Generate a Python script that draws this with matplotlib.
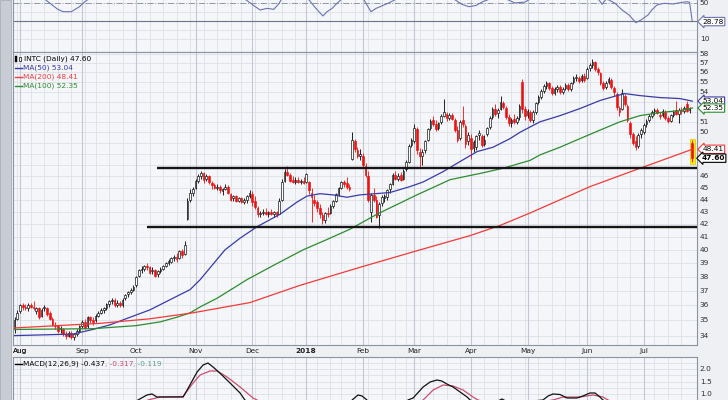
import numpy as np
import pandas as pd
import matplotlib
matplotlib.use('Agg')
import matplotlib.pyplot as plt
from matplotlib.patches import Rectangle
from matplotlib.lines import Line2D

plt.rcParams['font.family'] = ['DejaVu Sans']

# ---------------- data ----------------
holidays = ['2017-09-04', '2017-11-23', '2017-12-25', '2018-01-01', '2018-01-15',
            '2018-02-19', '2018-03-30', '2018-05-28', '2018-07-04']
dates = pd.bdate_range('2017-07-28', '2018-07-27', freq='C', holidays=holidays)

opens = [34.4, 35.1, 35.6, 36.0, 35.9, 35.8, 36.0, 35.9, 35.6, 35.8,
         35.3, 35.8, 35.8, 35.5, 35.1, 34.7, 34.6, 34.4, 34.4, 34.1,
         34.0, 34.2, 33.9, 34.1, 34.3, 34.6, 34.9, 34.6, 35.2, 35.0,
         35.0, 35.3, 35.5, 35.7, 35.8, 36.1, 36.3, 36.4, 36.0, 36.2,
         36.0, 36.5, 36.8, 36.9, 37.1, 37.4, 38.1, 38.5, 38.6, 38.8,
         38.7, 38.4, 38.5, 38.2, 38.4, 38.6, 38.8, 39.0, 39.1, 39.4,
         39.5, 39.4, 39.9, 39.7, 42.4, 44.0, 44.6, 45.0, 45.6, 46.0,
         46.3, 45.8, 46.0, 45.4, 45.2, 45.0, 45.1, 44.7, 44.9, 45.1,
         44.5, 44.1, 44.3, 43.9, 44.1, 43.8, 44.0, 44.3, 44.5, 43.9,
         43.3, 42.8, 42.9, 43.0, 42.8, 43.0, 42.8, 43.0, 42.8, 44.0,
         45.6, 46.4, 46.1, 45.7, 45.5, 45.7, 45.5, 45.6, 45.5, 45.5,
         44.6, 44.0, 43.8, 43.3, 42.7, 42.3, 42.9, 42.9, 43.5, 43.9,
         44.5, 45.0, 45.5, 45.4, 45.1, 47.5, 49.2, 48.3, 47.8, 47.8,
         46.9, 46.0, 43.0, 44.4, 44.0, 42.7, 43.7, 44.1, 44.2, 44.9,
         45.3, 46.1, 45.8, 46.1, 45.8, 46.6, 47.3, 48.8, 49.2, 50.3,
         48.2, 47.8, 48.3, 49.3, 50.4, 51.2, 50.8, 50.4, 51.0, 51.6,
         51.8, 51.4, 51.7, 51.2, 50.2, 49.5, 51.2, 50.6, 49.2, 49.5,
         48.5, 48.6, 49.7, 49.6, 48.9, 49.8, 50.5, 51.5, 52.3, 51.9,
         52.3, 52.9, 52.4, 51.5, 50.9, 51.3, 51.0, 51.5, 55.0, 52.3,
         51.7, 52.0, 51.2, 52.0, 53.0, 53.5, 54.1, 54.6, 54.9, 54.4,
         53.9, 54.3, 54.5, 54.0, 54.4, 54.7, 54.3, 55.0, 55.4, 55.4,
         55.2, 55.6, 55.4, 56.5, 56.8, 57.1, 56.4, 55.9, 54.9, 54.5,
         55.0, 55.2, 54.4, 53.8, 52.4, 52.3, 53.6, 52.6, 50.9, 49.8,
         49.2, 48.7, 49.8, 50.0, 50.8, 51.2, 51.6, 52.1, 52.2, 51.7,
         51.7, 52.0, 51.4, 51.1, 51.7, 52.2, 51.8, 52.2, 52.1, 52.8,
         52.2, 49.0]
highs = [35.2, 35.7, 36.1, 36.2, 36.1, 36.2, 36.2, 36.3, 35.9, 35.9,
         35.8, 36.0, 35.9, 35.6, 35.2, 34.9, 34.7, 34.6, 34.5, 34.3,
         34.3, 34.3, 34.2, 34.4, 34.7, 35.0, 35.1, 35.3, 35.3, 35.2,
         35.4, 35.6, 35.8, 35.9, 36.2, 36.4, 36.5, 36.5, 36.4, 36.3,
         36.5, 36.8, 37.0, 37.2, 37.4, 38.1, 38.6, 38.8, 38.9, 39.0,
         38.8, 38.7, 38.6, 38.5, 38.7, 38.9, 39.1, 39.3, 39.5, 39.6,
         39.8, 40.0, 40.1, 40.7, 44.1, 44.9, 45.1, 45.8, 46.2, 46.5,
         46.4, 46.2, 46.1, 45.6, 45.4, 45.3, 45.2, 45.0, 45.3, 45.2,
         44.6, 44.4, 44.4, 44.2, 44.2, 44.1, 44.4, 44.8, 44.7, 44.3,
         43.5, 43.1, 43.2, 43.3, 43.1, 43.2, 43.1, 43.1, 44.1, 45.8,
         46.6, 46.9, 46.3, 46.0, 45.9, 45.9, 45.8, 45.9, 46.3, 45.6,
         45.0, 44.4, 44.0, 43.6, 43.0, 43.0, 43.4, 43.6, 44.0, 44.6,
         45.1, 45.6, 45.7, 45.9, 45.3, 50.0, 49.4, 48.6, 48.4, 48.1,
         47.2, 46.5, 44.6, 45.0, 44.3, 43.8, 44.4, 44.5, 44.9, 45.4,
         46.3, 46.5, 46.3, 46.4, 46.6, 47.4, 48.9, 49.5, 50.8, 50.5,
         48.5, 48.4, 49.3, 50.4, 51.3, 51.6, 51.2, 51.0, 51.8, 53.3,
         52.0, 51.9, 51.9, 51.4, 50.6, 51.2, 52.6, 50.8, 50.0, 49.8,
         49.3, 49.7, 50.2, 49.8, 49.7, 50.5, 51.6, 52.5, 52.8, 52.4,
         53.6, 53.1, 52.6, 51.8, 51.4, 51.8, 51.6, 52.8, 55.3, 52.6,
         52.3, 52.2, 52.2, 53.0, 53.7, 54.3, 54.8, 55.1, 55.0, 54.6,
         54.5, 54.7, 54.7, 54.5, 54.9, 54.9, 55.0, 55.6, 55.8, 55.6,
         55.8, 55.9, 56.6, 57.0, 57.4, 57.2, 56.6, 56.0, 55.1, 55.1,
         55.5, 55.4, 54.6, 54.0, 52.6, 54.3, 53.8, 52.8, 51.1, 50.0,
         49.6, 49.9, 50.4, 50.9, 51.3, 51.8, 52.2, 52.4, 52.4, 52.0,
         52.3, 52.2, 51.6, 51.8, 52.2, 53.1, 52.4, 52.5, 52.6, 53.1,
         52.5, 49.3]
lows = [34.2, 35.0, 35.5, 35.7, 35.7, 35.6, 35.8, 35.7, 35.4, 35.1,
        35.2, 35.6, 35.3, 35.0, 34.6, 34.4, 34.2, 34.2, 34.0, 33.8,
        33.9, 33.8, 33.7, 34.0, 34.2, 34.5, 34.4, 34.5, 34.8, 34.7,
        34.9, 35.2, 35.4, 35.5, 35.7, 35.9, 36.1, 35.9, 35.9, 35.9,
        35.9, 36.4, 36.6, 36.8, 37.0, 37.3, 38.0, 38.3, 38.4, 38.5,
        38.2, 38.2, 38.0, 38.0, 38.3, 38.5, 38.7, 38.9, 39.0, 39.2,
        39.1, 39.3, 39.4, 39.6, 42.3, 43.8, 44.3, 44.9, 45.4, 45.8,
        45.4, 45.6, 45.3, 44.9, 44.9, 44.8, 44.6, 44.4, 44.8, 44.5,
        43.9, 43.9, 43.8, 43.8, 43.7, 43.6, 43.7, 44.1, 43.5, 43.2,
        42.6, 42.6, 42.7, 42.7, 42.6, 42.7, 42.6, 42.6, 42.8, 43.9,
        45.5, 46.0, 45.5, 45.4, 45.3, 45.4, 45.3, 45.3, 45.4, 44.5,
        42.2, 43.5, 43.0, 42.5, 42.0, 42.1, 42.6, 42.8, 43.3, 43.8,
        44.3, 44.9, 45.1, 44.9, 44.7, 47.4, 48.2, 47.6, 47.4, 46.8,
        45.9, 43.8, 42.2, 43.8, 42.5, 41.7, 43.5, 43.8, 44.0, 44.6,
        45.2, 45.7, 45.6, 45.6, 45.7, 46.5, 47.2, 48.6, 49.0, 48.0,
        46.7, 47.0, 48.1, 49.2, 50.2, 50.6, 50.1, 50.2, 50.8, 51.5,
        51.1, 51.2, 51.2, 50.0, 49.1, 49.3, 50.5, 48.5, 48.8, 47.5,
        48.2, 48.3, 49.3, 48.6, 48.7, 49.6, 50.3, 51.3, 51.6, 51.4,
        52.2, 52.3, 51.3, 50.6, 50.5, 50.8, 50.8, 51.2, 51.9, 51.2,
        51.4, 51.0, 50.9, 51.8, 52.8, 53.3, 53.9, 54.3, 54.2, 53.7,
        53.7, 54.0, 53.8, 53.8, 54.2, 54.1, 54.1, 54.8, 55.1, 54.9,
        55.0, 55.0, 55.3, 56.2, 56.5, 56.2, 55.7, 54.7, 54.2, 54.3,
        54.8, 54.3, 53.6, 52.2, 51.6, 52.2, 52.6, 51.0, 49.5, 48.8,
        48.3, 48.5, 49.5, 49.8, 50.5, 51.0, 51.4, 51.7, 51.8, 51.3,
        51.5, 51.2, 50.9, 51.0, 51.5, 51.7, 50.9, 51.8, 51.9, 52.0,
        51.9, 47.3]
closes = [35.0, 35.5, 36.0, 35.9, 35.8, 36.0, 35.9, 35.8, 35.8, 35.2,
          35.7, 35.9, 35.4, 35.1, 34.7, 34.6, 34.3, 34.5, 34.1, 34.0,
          34.2, 33.9, 34.1, 34.3, 34.6, 34.9, 34.5, 35.2, 35.0, 34.9,
          35.3, 35.5, 35.7, 35.8, 36.1, 36.3, 36.4, 36.0, 36.2, 36.0,
          36.4, 36.7, 36.9, 37.1, 37.3, 38.0, 38.5, 38.6, 38.8, 38.7,
          38.3, 38.5, 38.1, 38.4, 38.6, 38.8, 39.0, 39.2, 39.4, 39.5,
          39.3, 39.9, 39.6, 40.4, 43.9, 44.6, 44.9, 45.6, 46.0, 46.3,
          45.7, 46.0, 45.5, 45.2, 45.0, 45.1, 44.8, 44.9, 45.1, 44.6,
          44.0, 44.3, 43.9, 44.1, 43.8, 44.0, 44.3, 44.6, 43.8, 43.4,
          42.8, 42.9, 43.0, 42.8, 43.0, 42.8, 43.0, 42.7, 43.9, 45.5,
          46.4, 46.1, 45.6, 45.5, 45.7, 45.5, 45.6, 45.4, 46.2, 44.8,
          44.2, 43.7, 43.3, 42.8, 42.3, 42.9, 42.8, 43.5, 43.9, 44.5,
          45.0, 45.5, 45.3, 45.1, 44.9, 49.3, 48.4, 47.8, 48.0, 47.0,
          46.1, 44.0, 44.4, 44.0, 42.6, 43.6, 44.2, 44.3, 44.8, 45.3,
          46.1, 45.8, 46.0, 45.7, 46.5, 47.3, 48.7, 49.3, 50.4, 48.3,
          47.8, 48.2, 49.2, 50.3, 51.1, 50.8, 50.3, 50.9, 51.6, 52.0,
          51.4, 51.7, 51.3, 50.2, 49.3, 51.0, 50.8, 48.9, 49.7, 48.4,
          49.1, 49.6, 49.9, 48.8, 49.3, 50.4, 51.4, 52.3, 51.8, 52.2,
          53.0, 52.5, 51.5, 50.9, 51.2, 51.0, 51.4, 52.6, 52.3, 51.6,
          52.1, 51.2, 52.0, 52.9, 53.5, 54.1, 54.6, 54.9, 54.4, 53.9,
          54.3, 54.5, 54.0, 54.3, 54.7, 54.3, 54.9, 55.4, 55.5, 55.1,
          55.6, 55.2, 56.4, 56.8, 57.1, 56.4, 56.0, 54.9, 54.4, 54.9,
          55.3, 54.5, 54.0, 52.5, 52.0, 53.9, 52.8, 51.2, 49.8, 49.0,
          48.6, 49.7, 50.2, 50.7, 51.1, 51.6, 52.0, 52.2, 51.9, 51.6,
          52.1, 51.4, 51.1, 51.7, 52.0, 51.8, 52.2, 52.1, 52.4, 52.1,
          52.3, 47.6]

# moving averages, read at sampled trading days (index into dates)
ma50_day = [0, 21.6, 29, 35.3, 42.7, 50.1, 57.6, 65, 68.7, 77.9, 83.5, 89.8, 98.3, 104.6,
            108.3, 113.1, 117.9, 123.1, 127.9, 139, 146.4, 151.3, 158.7, 165, 171.3, 177.2,
            183.5, 187.2, 194.6, 202, 209.4, 216.8, 223.1, 226.1, 231.6, 239, 246.4, 251]
ma50_val = [34.0, 34.1, 34.4, 34.7, 35.2, 35.7, 36.4, 37.1, 37.8, 40.0, 40.9, 41.8, 42.8, 43.8,
            44.3, 44.5, 44.4, 44.2, 44.4, 44.6, 45.1, 45.5, 46.4, 47.3, 48.2, 48.6,
            49.4, 50.0, 51.0, 51.6, 52.3, 53.1, 53.6, 53.8, 53.6, 53.4, 53.3, 53.04]
ma100_day = [0, 29, 45, 54, 60, 65, 68.7, 75, 81, 86, 96.4, 106.8, 115.7, 124.2, 134.2,
             149, 161.3, 173.5, 180.9, 190.9, 194.6, 202, 209.4, 216.8, 224.2, 231.6,
             239, 246.4, 251]
ma100_val = [34.4, 34.45, 34.65, 34.9, 35.2, 35.5, 35.9, 36.5, 37.2, 37.8, 38.9, 40.0, 40.8,
             41.6, 42.8, 44.4, 45.7, 46.3, 46.7, 47.4, 47.9, 48.6, 49.4, 50.2, 51.0, 51.6,
             51.9, 52.1, 52.35]
ma200_day = [0, 31.6, 50, 66, 87.2, 105.7, 127.9, 150.1, 168.7, 179.8, 190.9, 213.1, 230.5, 251]
ma200_val = [34.5, 34.8, 35.1, 35.5, 36.2, 37.4, 38.7, 40.0, 41.1, 41.9, 42.9, 45.1, 46.6, 48.41]

# upper indicator (RSI-style) panel
rsi_day = [0, 6, 11, 16, 18, 21, 24, 26, 28, 35, 45, 55, 62, 68, 75, 80,
           85.7, 88.3, 90.9, 93.5, 96, 98, 98.7, 101, 104,
           109, 111.6, 114.2, 115.7, 117.6, 119.4, 120.9, 124, 126, 128,
           129.4, 130.5, 132, 133.9, 135.7, 138.3, 140.9, 145, 149, 152, 157, 161,
           163.1, 165.7, 168.3, 170.9, 173.5, 175.3, 178,
           182.7, 185.3, 189, 190.5, 195, 200, 206, 212,
           216.4, 217.6, 219, 220, 222.4, 225, 227.6, 230.1, 232, 234.6, 236,
           237.9, 240.5, 243.9, 246.4, 249, 250, 251]
rsi_val = [60, 58, 54, 42.4, 39.8, 39.8, 45.3, 50.9, 55, 64, 74, 66, 70, 78, 62, 57,
           53, 47.2, 41.7, 43.5, 42.4, 49.1, 53, 68, 60,
           53, 43.5, 35, 39.8, 43.5, 49.1, 53, 60, 72, 64,
           53, 47.2, 39.8, 43.5, 45.8, 49.1, 53, 62, 68, 60, 64, 56,
           53, 48, 45.3, 46.7, 51.1, 53, 62,
           53, 49.5, 50.5, 53, 62, 60, 65, 70,
           53, 48, 53.5, 53, 49.1, 41.7, 36.1, 27.6, 30.6, 36.1, 41.7,
           47.2, 49.1, 48.3, 49.8, 50.9, 50.3, 28.78]

# MACD panel
macd_day = [0, 10, 20, 30, 40, 45.7, 49, 50.9, 52.7, 62.4, 63.9, 67.6, 69.8, 71.6, 73.5, 76,
            79.8, 83.5, 85.3, 92, 98, 104, 110, 118, 124, 125, 127.2, 128.7, 130.5, 135,
            140, 143, 145.7, 147.6, 151.3, 153.9, 156.4, 158.2, 160.1, 162.4, 165, 167.6,
            168.7, 175, 180.5, 184, 190, 195.7, 197.6, 199.4, 202, 204.6, 208.3, 210.5,
            213.1, 215, 216.8, 217.9, 225, 232, 240, 246, 251]
macd_val = [0.2, 0.1, -0.3, -0.1, 0.3, 0.76, 0.96, 1.0, 0.88, 0.88, 1.16, 1.88, 2.16, 2.24,
            2.08, 1.84, 1.44, 1.04, 0.76, 0.2, 0.0, 0.4, 0.2, -0.1, 0.5, 0.76, 0.96, 0.92,
            0.76, 0.1, 0.1, 0.45, 0.76, 0.84, 1.28, 1.48, 1.56, 1.52, 1.4, 1.28, 1.08, 0.88,
            0.76, 0.5, 0.8, 0.6, 0.7, 0.76, 0.92, 1.0, 0.98, 0.84, 0.84, 0.92, 1.04, 1.04,
            0.88, 0.76, 0.3, -0.3, -0.1, 0.1, -0.437]
signal_day = [0, 20, 35, 45, 49.4, 53.9, 62.4, 66.1, 68.7, 72.4, 75, 78.7, 83.5, 88.3, 89.8,
              96, 104, 112, 120, 128, 135, 142, 147, 151.3, 155, 158.7, 162.4, 166.1, 169.8,
              171.6, 180, 190, 199.4, 203.1, 209.4, 214.2, 217.9, 219.8, 228, 238, 251]
signal_val = [0.3, -0.1, 0.0, 0.5, 0.76, 0.88, 0.9, 1.44, 1.76, 1.92, 1.92, 1.68, 1.28, 0.84,
              0.76, 0.3, 0.2, 0.25, 0.1, 0.4, 0.5, 0.3, 0.5, 0.76, 1.16, 1.36, 1.32, 1.16,
              0.88, 0.76, 0.55, 0.6, 0.76, 0.88, 0.88, 0.96, 0.88, 0.76, 0.4, 0.0, -0.317]
macd_legend = [-0.437, -0.317, -0.119]

# drawn support / resistance levels and the day each starts
level_price = [46.72, 41.78]
level_start = [52.6, 48.9]

main_ticks = list(range(34, 59))
rsi_ticks = [50, 10]
macd_ticks = [2.0, 1.5, 1.0]

# ---------------- figure ----------------
W, H = 728, 400
fig = plt.figure(figsize=(W / 100, H / 100), dpi=100)
fig.patch.set_facecolor('#eef0f4')
fig.add_artist(Rectangle((0, 0), 11 / W, 1, transform=fig.transFigure,
                         fc='#c8ccd5', ec='#a8adb8', lw=0.6, zorder=0))

n = len(dates)
x = np.arange(n)
XMIN, XMAX = -0.6, 252.75

month_idx = [i for i in range(1, n) if dates[i].month != dates[i - 1].month]
week_idx = [i for i in range(1, n) if dates[i].weekday() < dates[i - 1].weekday()]

PANEL = '#f4f6fa'
SPINE = '#8b92a0'
FS = 5.3
MAIN_PX_PER_LOG = 293 / np.log(58.22 / 33.40)


def px_axes(y0, y1):
    a = fig.add_axes([13 / W, 1 - y1 / H, 684 / W, (y1 - y0) / H])
    a.set_facecolor(PANEL)
    a.set_xlim(XMIN, XMAX)
    a.tick_params(which='both', left=False, right=False, top=False, bottom=False,
                  labelleft=False, labelbottom=False)
    for s in a.spines.values():
        s.set_color(SPINE)
        s.set_linewidth(0.8)
    for d in week_idx:
        a.axvline(d, color='#dde1e8', lw=0.6, zorder=0.5)
    for d in month_idx:
        a.axvline(d, color='#c2c7d1', lw=0.8, zorder=0.6)
    return a


def right_label(a, y, s):
    a.text(XMAX + 1.0, y, s, ha='left', va='center', fontsize=FS, color='#303030',
           clip_on=False)


def value_box(a, y, s, ec, bold=False):
    a.text(XMAX + 5.9, y, s, ha='center', va='center', fontsize=FS, color='black',
           fontweight='bold' if bold else 'normal', clip_on=False, zorder=10,
           bbox=dict(boxstyle='larrow,pad=0.16', fc='white', ec=ec, lw=0.8))


# ---- top (RSI-type) panel ----
ax_r = px_axes(0, 52)
ax_r.set_ylim(-5.0, 52.78)
ax_r.spines['top'].set_visible(False)
for v in [10, 20, 40]:
    ax_r.axhline(v, color='#dde1e8', lw=0.6, zorder=0.5)
ax_r.axhline(50, color='#8f96a6', lw=0.7, ls='-.', zorder=1)
ax_r.axhline(30, color='#6d7486', lw=0.8, zorder=1)
ax_r.plot(rsi_day, rsi_val, color='#6b74b0', lw=0.8, zorder=3)
for t in rsi_ticks:
    right_label(ax_r, t, str(t))
value_box(ax_r, rsi_val[-1], f'{rsi_val[-1]:.2f}', '#6b74b0')

# ---- main price panel ----
ax = px_axes(52, 345)
ax.set_yscale('log')
ax.set_ylim(33.40, 58.22)
ax.yaxis.set_minor_locator(matplotlib.ticker.NullLocator())
ax.tick_params(which='both', left=False, right=False, labelleft=False, labelright=False)
box_values = [ma50_val[-1], ma100_val[-1], ma200_val[-1], closes[-1]]
for t in main_ticks:
    ax.axhline(t, color='#dde1e8', lw=0.6, zorder=0.5)
    gap = min(abs(np.log(t / v)) * MAIN_PX_PER_LOG for v in box_values)
    if gap > 7:
        right_label(ax, t, str(t))

o = np.array(opens); h = np.array(highs); l = np.array(lows); c = np.array(closes)
prev = np.r_[o[0], c[:-1]]
col = np.where(c >= prev, 'black', '#ee1111')
hollow = c > o
face = np.where(hollow, 'white', col)

# highlight of the latest session
ax.add_patch(Rectangle((x[-1] - 0.85, l[-1] - 0.25), 1.7, h[-1] - l[-1] + 0.35,
                       fc='#fff000', ec='#d8b000', lw=0.4, zorder=2))

ax.vlines(x, l, h, colors=col, lw=0.6, zorder=3)
ax.bar(x, np.maximum(np.abs(c - o), 0.05), bottom=np.minimum(o, c), width=0.62,
       color=face, edgecolor=col, linewidth=0.45, zorder=4)

ax.plot(ma50_day, ma50_val, color='#3a3aa6', lw=0.9, zorder=5)
ax.plot(ma100_day, ma100_val, color='#2f8a2f', lw=0.9, zorder=5)
ax.plot(ma200_day, ma200_val, color='#f03a3a', lw=0.9, zorder=5)

for p, s in zip(level_price, level_start):
    ax.hlines(p, s, XMAX, colors='#151515', lw=1.7, zorder=6)

value_box(ax, ma50_val[-1], f'{ma50_val[-1]:.2f}', '#3a3aa6')
value_box(ax, ma100_val[-1], f'{ma100_val[-1]:.2f}', '#2f8a2f')
value_box(ax, ma200_val[-1], f'{ma200_val[-1]:.2f}', '#f03a3a')
value_box(ax, closes[-1], f'{closes[-1]:.2f}', 'black', bold=True)

# month labels under the price panel
for i in [2] + month_idx:
    d = dates[i]
    lab = str(d.year) if d.month == 1 else d.strftime('%b')
    ax.text(i, -0.021, lab, transform=ax.get_xaxis_transform(), ha='center', va='center',
            fontsize=FS, color='#202020', fontweight='bold' if d.month == 1 else 'normal',
            clip_on=False)


def ftext(px, py, s, **kw):
    return fig.text(px / W, 1 - py / H, s, fontsize=FS, va='center', ha='left', **kw)


# legend of the price panel
fig.add_artist(Rectangle((15 / W, 1 - 62 / H), 2 / W, 6 / H, transform=fig.transFigure,
                         fc='black', ec='black', lw=0.3, zorder=20))
fig.add_artist(Rectangle((18.5 / W, 1 - 61 / H), 2 / W, 4 / H, transform=fig.transFigure,
                         fc='white', ec='black', lw=0.5, zorder=20))
ftext(24, 59, f'INTC (Daily) {closes[-1]:.2f}', color='black', zorder=20)
legend_rows = [(f'MA(50) {ma50_val[-1]:.2f}', '#3a3aa6', 68),
               (f'MA(200) {ma200_val[-1]:.2f}', '#f03a3a', 77),
               (f'MA(100) {ma100_val[-1]:.2f}', '#2f8a2f', 86)]
for s, cc, py in legend_rows:
    fig.add_artist(Line2D([15 / W, 22 / W], [1 - py / H, 1 - py / H], color=cc, lw=1.0,
                          transform=fig.transFigure, zorder=20))
    ftext(23, py, s, color=cc, zorder=20)

# ---- MACD panel ----
ax_m = px_axes(357, 400)
ax_m.set_ylim(0.76, 2.48)
ax_m.spines['bottom'].set_visible(False)
for v in [0.75, 1.0, 1.25, 1.5, 1.75, 2.0, 2.25]:
    ax_m.axhline(v, color='#dde1e8', lw=0.6, zorder=0.5)
ax_m.plot(signal_day, signal_val, color='#cc4d6b', lw=0.9, zorder=3)
ax_m.plot(macd_day, macd_val, color='#111111', lw=0.9, zorder=4)
for t in macd_ticks:
    right_label(ax_m, t, f'{t:.1f}')

fig.add_artist(Line2D([15 / W, 22 / W], [1 - 364 / H, 1 - 364 / H], color='black', lw=1.0,
                      transform=fig.transFigure, zorder=20))
t1 = fig.text(23 / W, 1 - 367 / H, f'MACD(12,26,9) {macd_legend[0]:.3f}', fontsize=FS,
              color='black', va='bottom', ha='left', zorder=20)
t2 = ax_m.annotate(f', {macd_legend[1]:.3f}', xy=(1, 0), xycoords=t1, va='bottom',
                   ha='left', fontsize=FS, color='#cc4d6b', annotation_clip=False, zorder=20)
t3 = ax_m.annotate(f', {macd_legend[2]:.3f}', xy=(1, 0), xycoords=t2,
                   va='bottom', ha='left', fontsize=FS, color='#5f9f8c',
                   annotation_clip=False, zorder=20)

fig.savefig('out.png', dpi=100, facecolor=fig.get_facecolor())
